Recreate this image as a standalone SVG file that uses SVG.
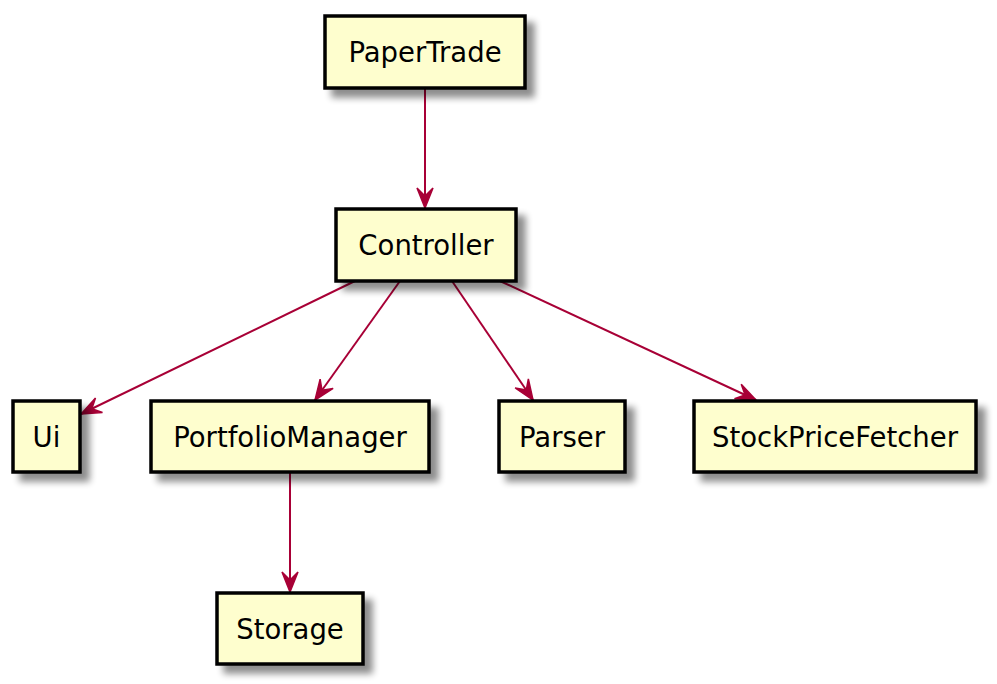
<svg xmlns="http://www.w3.org/2000/svg" width="997" height="684" viewBox="0 0 997 684">
<defs>
<filter id="sh" x="-20%" y="-20%" width="150%" height="160%">
<feGaussianBlur in="SourceAlpha" stdDeviation="3.5"/>
<feOffset dx="8" dy="8" result="b"/>
<feComponentTransfer><feFuncA type="linear" slope="0.45"/></feComponentTransfer>
<feMerge><feMergeNode/><feMergeNode in="SourceGraphic"/></feMerge>
</filter>
<marker id="ar" markerUnits="userSpaceOnUse" viewBox="-22 -10 24 20" refX="0" refY="0" markerWidth="24" markerHeight="20" orient="auto">
<path d="M0,0 L-20,-8 L-12,0 L-20,8 Z" fill="#A80036" stroke="#A80036" stroke-width="1.5" stroke-linejoin="miter"/>
</marker>
<style>
.n rect{fill:#FEFECE;stroke:#000;stroke-width:3.5;filter:url(#sh)}
.n text{font-family:"DejaVu Sans",Verdana,sans-serif;font-size:27.5px;fill:#000;text-anchor:middle}
.c line{stroke:#A80036;stroke-width:2;marker-end:url(#ar)}
</style>
</defs>
<rect width="997" height="684" fill="#fff"/>
<g class="c" id="connectors">
<line x1="425" y1="88" x2="425" y2="208"/>
<line x1="355" y1="281" x2="81" y2="414"/>
<line x1="400" y1="281" x2="315" y2="400"/>
<line x1="452" y1="281" x2="533" y2="400"/>
<line x1="500" y1="281" x2="756" y2="400"/>
<line x1="290" y1="472" x2="290" y2="592"/>
</g>
<g class="n" id="PaperTrade"><rect x="325" y="16" width="200" height="72"/><text x="425" y="62">PaperTrade</text></g>
<g class="n" id="Controller"><rect x="336" y="209" width="180" height="72"/><text x="426" y="255">Controller</text></g>
<g class="n" id="Ui"><rect x="13" y="401" width="67" height="71"/><text x="46.5" y="447">Ui</text></g>
<g class="n" id="PortfolioManager"><rect x="151" y="401" width="278" height="71"/><text x="290" y="447">PortfolioManager</text></g>
<g class="n" id="Parser"><rect x="499" y="401" width="126" height="71"/><text x="562" y="447">Parser</text></g>
<g class="n" id="StockPriceFetcher"><rect x="694" y="401" width="282" height="71"/><text x="835" y="447">StockPriceFetcher</text></g>
<g class="n" id="Storage"><rect x="217" y="593" width="146" height="71"/><text x="290" y="639">Storage</text></g>
</svg>
